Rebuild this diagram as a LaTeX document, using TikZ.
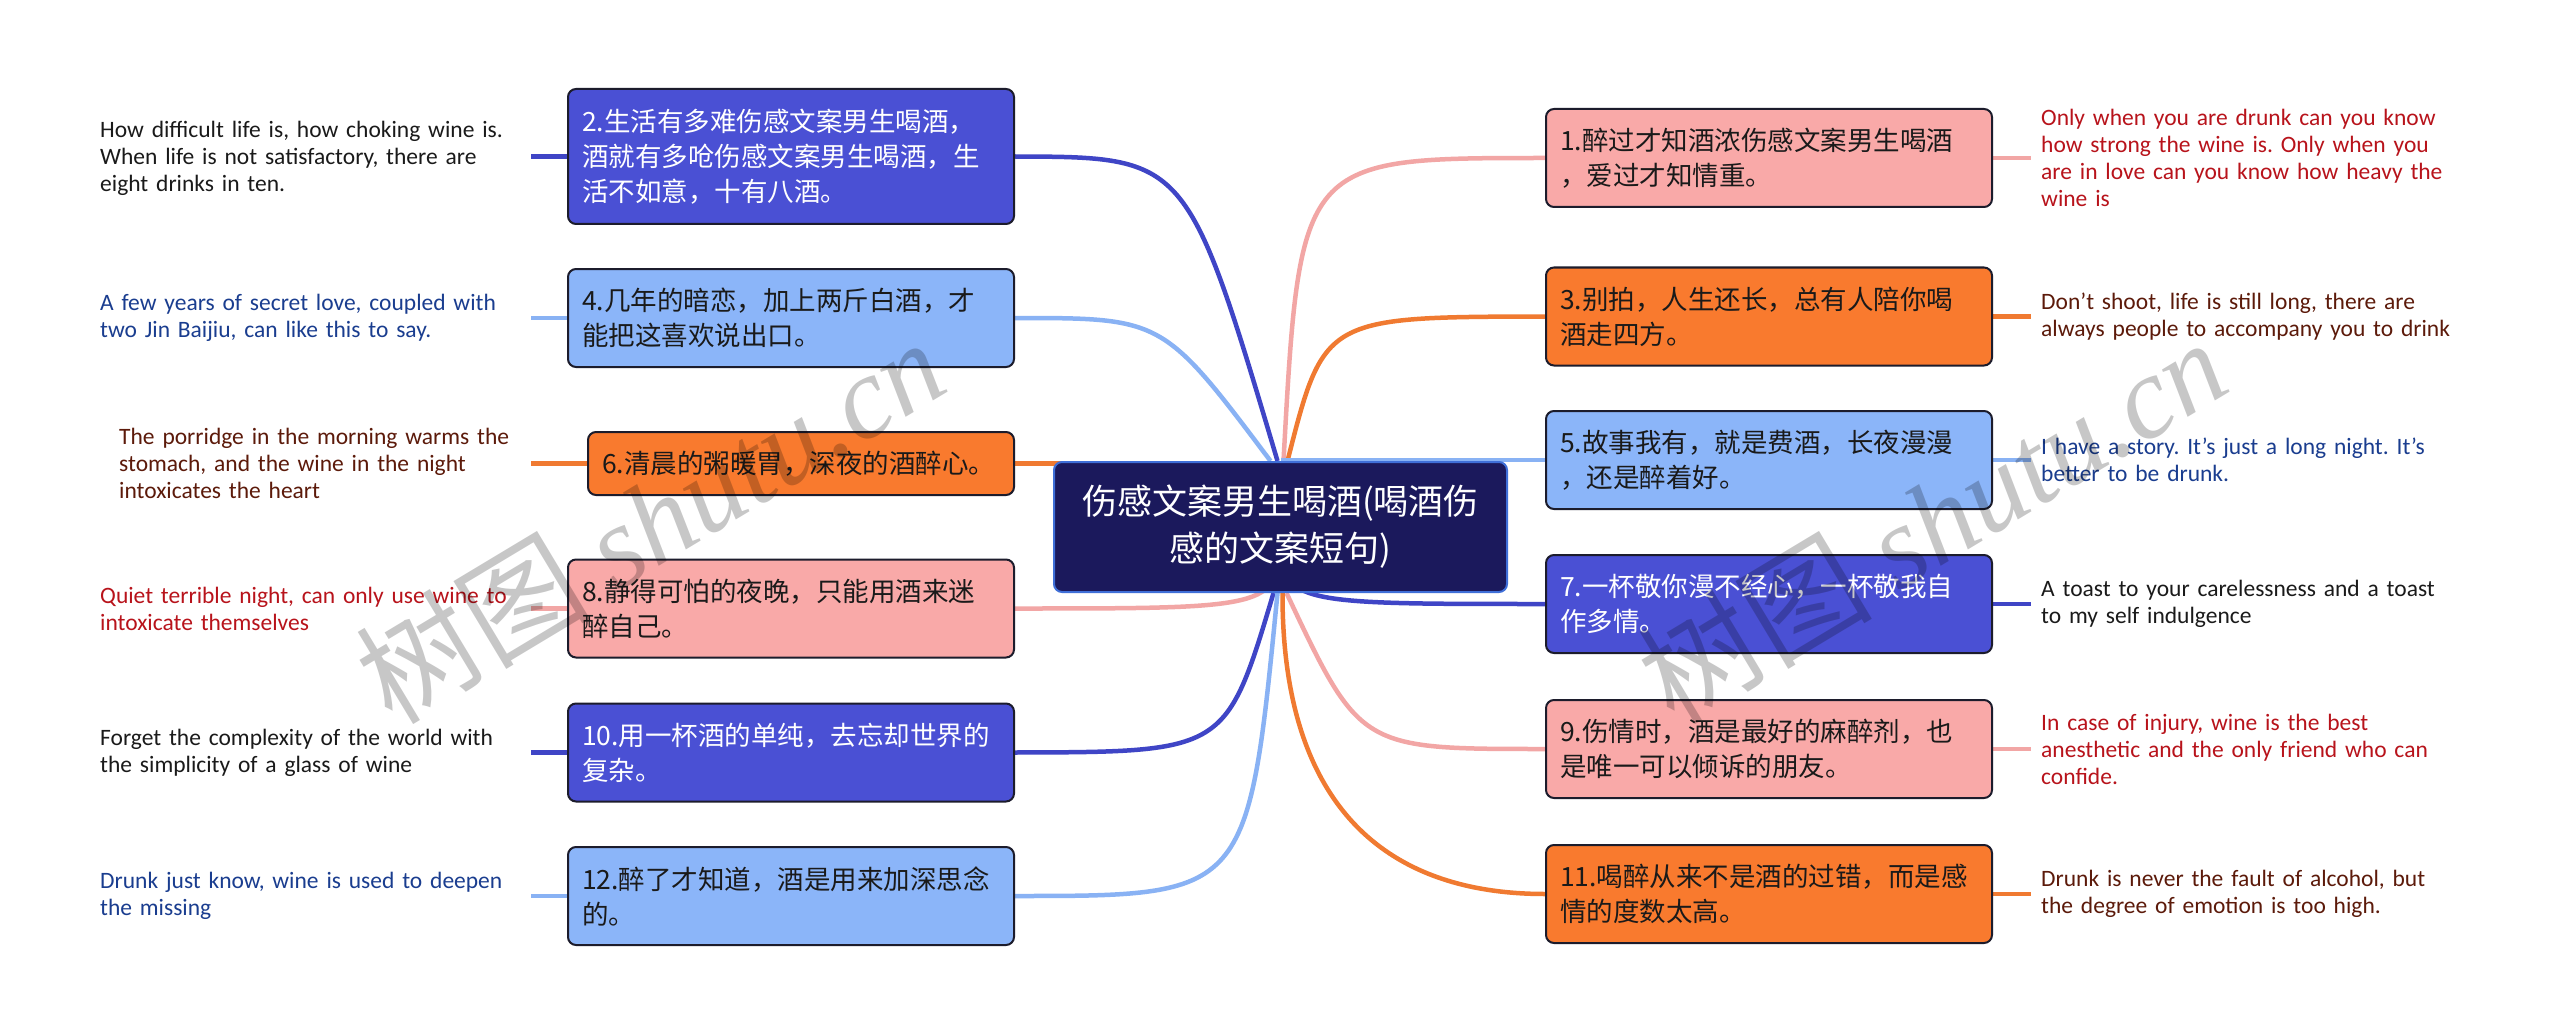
\documentclass[tikz,border=0pt]{standalone}
\usepackage{fontspec}
\setmainfont{Carlito}
\newfontfamily\cjk{Noto Sans CJK SC}
\newfontfamily\wmserif{Liberation Serif}
\usetikzlibrary{backgrounds}

% box and line colours
\definecolor{deepblue}{HTML}{4A50D4}
\definecolor{skyblue}{HTML}{8BB5F9}
\definecolor{tangerine}{HTML}{F97A2E}
\definecolor{blush}{HTML}{F9A9A8}
\definecolor{navyroot}{HTML}{1B195C}
\definecolor{rootedge}{HTML}{3F6FD8}
\definecolor{boxedge}{HTML}{1C1C2C}
\definecolor{deepline}{HTML}{3F45C6}
\definecolor{skyline}{HTML}{89B2F4}
\definecolor{orangeline}{HTML}{F07A31}
\definecolor{pinkline}{HTML}{F2A6A5}
% note colours
\definecolor{notered}{HTML}{B8131B}
\definecolor{noteblue}{HTML}{1A3D8F}
\definecolor{notebrown}{HTML}{5C1A0A}
\definecolor{noteblack}{HTML}{1A1A1A}

\tikzset{
  topic/.style={draw=boxedge, line width=2pt, rounded corners=8pt, fill=#1,
    text width=418pt, inner xsep=14pt, inner ysep=0pt, align=left,
    minimum height=98pt, text=noteblack,
    font=\cjk\fontsize{26.5}{35}\selectfont},
  rootbox/.style={draw=rootedge, line width=2pt, rounded corners=8pt, fill=navyroot,
    minimum width=453pt, minimum height=130pt, text=white, align=center,
    font=\cjk\fontsize{35}{47}\selectfont},
  note/.style={inner sep=0pt, align=left, anchor=west, text=#1,
    font=\frenchspacing\fontsize{23.5}{27}\selectfont},
  leftnote/.style={note=#1, text width=431pt},
  rightnote/.style={note=#1, inner xsep=10pt, text width=480pt},
  branch/.style={line width=4.5pt, draw=#1},
  watermark/.style={text=black, text opacity=0.22, rotate=31,
    font=\fontsize{117}{117}\selectfont},
}

\begin{document}
\begin{tikzpicture}[x=1pt, y=-1pt]

        \useasboundingbox (0,0) rectangle (2560,1035);

        % Central topic
        \node[rootbox] (root) at (1280.5,527) {伤感文案男生喝酒(喝酒伤\\感的文案短句)};

        % Left topics
        \node[topic=deepblue, text=white, minimum height=135pt] (b2) at (791,156.5)
            {2.生活有多难伤感文案男生喝酒，\\酒就有多呛伤感文案男生喝酒，生\\活不如意，十有八酒。};
        \node[topic=skyblue] (b4) at (791,318)
            {4.几年的暗恋，加上两斤白酒，才\\能把这喜欢说出口。};
        \node[topic=tangerine, text width=398pt, minimum height=63pt] (b6) at (801,463.5)
            {6.清晨的粥暖胃，深夜的酒醉心。};
        \node[topic=blush] (b8) at (791,608.5)
            {8.静得可怕的夜晚，只能用酒来迷\\醉自己。};
        \node[topic=deepblue, text=white] (b10) at (791,752.5)
            {10.用一杯酒的单纯，去忘却世界的\\复杂。};
        \node[topic=skyblue] (b12) at (791,896)
            {12.醉了才知道，酒是用来加深思念\\的。};

        % Right topics
        \node[topic=blush] (b1) at (1769,158)
            {1.醉过才知酒浓伤感文案男生喝酒\\，爱过才知情重。};
        \node[topic=tangerine] (b3) at (1769,316.5)
            {3.别拍，人生还长，总有人陪你喝\\酒走四方。};
        \node[topic=skyblue] (b5) at (1769,460)
            {5.故事我有，就是费酒，长夜漫漫\\，还是醉着好。};
        \node[topic=deepblue, text=white] (b7) at (1769,604)
            {7.一杯敬你漫不经心，一杯敬我自\\作多情。};
        \node[topic=blush] (b9) at (1769,749)
            {9.伤情时，酒是最好的麻醉剂，也\\是唯一可以倾诉的朋友。};
        \node[topic=tangerine] (b11) at (1769,894)
            {11.喝醉从来不是酒的过错，而是感\\情的度数太高。};

        % Left notes
        \node[leftnote=noteblack] (n2) at (100,158)
            {How difficult life is, how choking wine is.\\When life is not satisfactory, there are\\eight drinks in ten.};
        \node[leftnote=noteblue] (n4) at (100,318)
            {A few years of secret love, coupled with\\two Jin Baijiu, can like this to say.};
        \node[leftnote=notebrown, text width=412pt] (n6) at (119,463.5)
            {The porridge in the morning warms the\\stomach, and the wine in the night\\intoxicates the heart};
        \node[leftnote=notered] (n8) at (100,608.5)
            {Quiet terrible night, can only use wine to\\intoxicate themselves};
        \node[leftnote=noteblack] (n10) at (100,752.5)
            {Forget the complexity of the world with\\the simplicity of a glass of wine};
        \node[leftnote=noteblue] (n12) at (100,896)
            {Drunk just know, wine is used to deepen\\the missing};

        % Right notes
        \node[rightnote=notered] (n1) at (2031,158)
            {Only when you are drunk can you know\\how strong the wine is. Only when you\\are in love can you know how heavy the\\wine is};
        \node[rightnote=notebrown] (n3) at (2031,316.5)
            {Don't shoot, life is still long, there are\\always people to accompany you to drink};
        \node[rightnote=noteblue] (n5) at (2031,460)
            {I have a story. It's just a long night. It's\\better to be drunk.};
        \node[rightnote=noteblack] (n7) at (2031,604)
            {A toast to your carelessness and a toast\\to my self indulgence};
        \node[rightnote=notered] (n9) at (2031,749)
            {In case of injury, wine is the best\\anesthetic and the only friend who can\\confide.};
        \node[rightnote=notebrown] (n11) at (2031,894)
            {Drunk is never the fault of alcohol, but\\the degree of emotion is too high.};

        % Branches under the boxes
        \begin{scope}[on background layer]
            \fill[white] (0,0) rectangle (2560,1035);

            % left side
            \draw[branch=deepline] ([xshift=-3pt]root.north) .. controls (1187,157) .. (b2.east);
            \draw[branch=skyline] ([xshift=-10pt]root.north) .. controls (1163,318) .. (b4.east);
            \draw[branch=orangeline] (b6.east) -- (b6.east -| root.center);
            \draw[branch=pinkline] (root.center) .. controls (root.center |- b8.east) .. (b8.east);
            \draw[branch=deepline] ([xshift=-7pt]root.south) .. controls (1226,752) .. (b10.east);
            \draw[branch=skyline] ([xshift=-3pt]root.south) .. controls (1248,896) .. (b12.east);

            % right side
            \draw[branch=pinkline] ([xshift=3pt]root.north) .. controls (1300,158) .. (b1.west);
            \draw[branch=orangeline] ([xshift=7pt]root.north) .. controls (1324,317) .. (b3.west);
            \draw[branch=skyline] (b5.west) -- (b5.west -| root.center);
            \draw[branch=deepline] (root.center) .. controls (root.center |- b7.west) .. (b7.west);
            \draw[branch=pinkline] ([xshift=6pt]root.south) .. controls (1360,749) .. (b9.west);
            \draw[branch=orangeline] ([xshift=2pt]root.south) .. controls (1282,800) and (1380,894) .. (b11.west);

            % stubs to the notes
            \draw[branch=deepline] (b2.west -| n2.east) -- (b2.west);
            \draw[branch=skyline] (b4.west -| n4.east) -- (b4.west);
            \draw[branch=orangeline] (b6.west -| n6.east) -- (b6.west);
            \draw[branch=pinkline] (b8.west -| n8.east) -- (b8.west);
            \draw[branch=deepline] (b10.west -| n10.east) -- (b10.west);
            \draw[branch=skyline] (b12.west -| n12.east) -- (b12.west);
            \draw[branch=pinkline] (b1.east) -- (b1.east -| n1.west);
            \draw[branch=orangeline] (b3.east) -- (b3.east -| n3.west);
            \draw[branch=skyline] (b5.east) -- (b5.east -| n5.west);
            \draw[branch=deepline] (b7.east) -- (b7.east -| n7.west);
            \draw[branch=pinkline] (b9.east) -- (b9.east -| n9.west);
            \draw[branch=orangeline] (b11.east) -- (b11.east -| n11.west);
        \end{scope}

        % Watermarks
        \node[watermark] (wmA) at (650,520) {{\cjk 树图} {\wmserif\itshape shutu.cn}};
        \node[watermark] (wmB) at (1932,520) {{\cjk 树图} {\wmserif\itshape shutu.cn}};

    \end{tikzpicture}
\end{document}
